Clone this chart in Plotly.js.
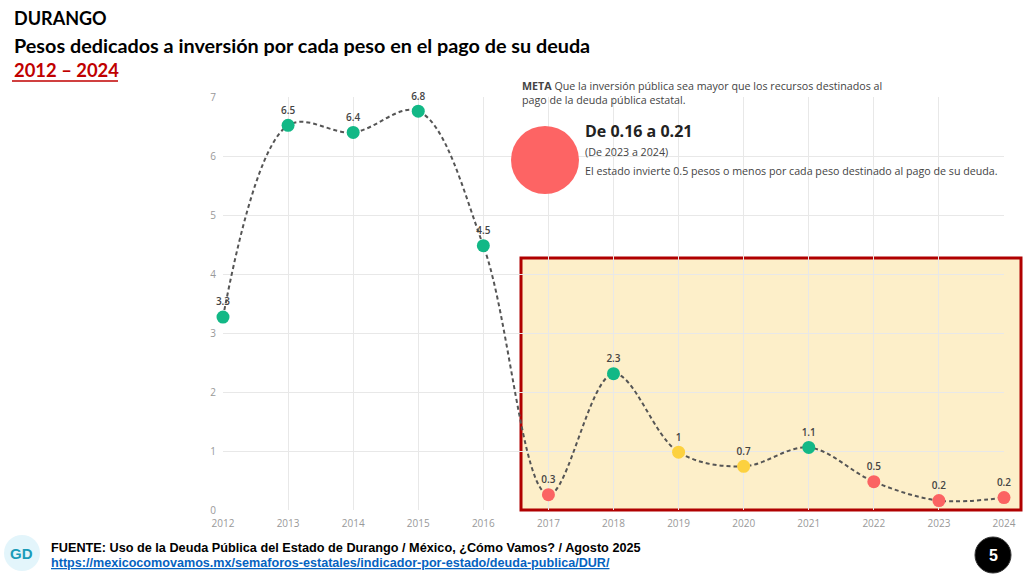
<!DOCTYPE html>
<html>
<head>
<meta charset="utf-8">
<script src="https://cdn.plot.ly/plotly-3.0.1.min.js"></script>
<style>
  html, body { margin: 0; padding: 0; background: #fff; }
  #graph { width: 1024px; height: 579px; }
</style>
</head>
<body>
<div id="graph"></div>
<script>
const years = [2012, 2013, 2014, 2015, 2016, 2017, 2018, 2019, 2020, 2021, 2022, 2023, 2024];
const values = [3.27, 6.52, 6.40, 6.76, 4.48, 0.26, 2.31, 0.98, 0.74, 1.06, 0.48, 0.16, 0.21];
const yTicks = [0, 1, 2, 3, 4, 5, 6, 7];

// semáforo: verde > 1, amarillo > 0.5, rojo el resto
function colorFor(v) {
  if (v > 1) return "#12b886";
  if (v > 0.5) return "#fcd13f";
  return "#fb6363";
}

const labels = values.map(v => String(Math.round(v * 10) / 10));
const colors = values.map(colorFor);

const trace = {
  x: years,
  y: values,
  type: "scatter",
  mode: "lines+markers+text",
  text: labels,
  textposition: "top center",
  textfont: { family: "Open Sans", size: 10, color: "#444", weight: 600 },
  line: { shape: "spline", smoothing: 1, color: "#555", width: 2, dash: "4px,3px" },
  marker: { size: 13, color: colors },
  cliponaxis: false,
  hoverinfo: "x+y"
};

const L = 223, R = 20, T = 97, B = 69;
const PW = 1024 - L - R, PH = 579 - T - B;
const px = x => (x - L) / PW;
const py = y => (579 - B - y) / PH;

const layout = {
  width: 1024,
  height: 579,
  margin: { l: L, r: R, t: T, b: B },
  paper_bgcolor: "#fff",
  plot_bgcolor: "#fff",
  showlegend: false,
  font: { family: "Open Sans", color: "#999" },
  xaxis: {
    range: [2012, 2024],
    tickvals: years,
    showgrid: true,
    gridcolor: "#e8e8e8",
    zeroline: false,
    showline: false,
    ticks: "",
    ticklabelstandoff: 6,
    tickfont: { size: 10, color: "#999" }
  },
  yaxis: {
    range: [0, 7],
    tickvals: yTicks,
    showgrid: true,
    gridcolor: "#e8e8e8",
    zeroline: false,
    showline: false,
    ticks: "",
    ticklabelstandoff: 6,
    tickfont: { size: 10, color: "#999" }
  },
  shapes: [
    {
      type: "rect", xref: "paper", yref: "paper", layer: "below",
      x0: px(521), x1: px(1021), y0: py(510), y1: py(258),
      fillcolor: "#fdefc9", line: { color: "#b00000", width: 3 }
    },
    {
      type: "rect", xref: "paper", yref: "paper", layer: "between",
      x0: px(506), x1: px(1024), y0: py(255), y1: py(76),
      fillcolor: "#fff", line: { width: 0 }
    },
    {
      type: "circle", xref: "paper", yref: "paper",
      xsizemode: "pixel", ysizemode: "pixel",
      xanchor: px(545), yanchor: py(160),
      x0: -34, x1: 34, y0: -34, y1: 34,
      fillcolor: "#fd6464", line: { width: 0 }
    },
    {
      type: "circle", xref: "paper", yref: "paper",
      xsizemode: "pixel", ysizemode: "pixel",
      xanchor: px(22), yanchor: py(553),
      x0: -18, x1: 18, y0: -18, y1: 18,
      fillcolor: "#e3f5fb", line: { width: 0 }
    },
    {
      type: "circle", xref: "paper", yref: "paper",
      xsizemode: "pixel", ysizemode: "pixel",
      xanchor: px(993), yanchor: py(555),
      x0: -18, x1: 18, y0: -18, y1: 18,
      fillcolor: "#000", line: { color: "#333", width: 1 }
    },
    {
      type: "line", xref: "paper", yref: "paper",
      x0: px(12), x1: px(118), y0: py(81), y1: py(81),
      line: { color: "#c00000", width: 1.5 }
    }
  ],
  annotations: [
    {
      xref: "paper", yref: "paper", x: px(12), y: py(18),
      xanchor: "left", yanchor: "middle", showarrow: false,
      text: "<b>DURANGO</b>",
      font: { family: "Lato", size: 18, color: "#000" }
    },
    {
      xref: "paper", yref: "paper", x: px(12), y: py(45),
      xanchor: "left", yanchor: "middle", showarrow: false,
      text: "<b>Pesos dedicados a inversión por cada peso en el pago de su deuda</b>",
      font: { family: "Lato", size: 19.8, color: "#000" }
    },
    {
      xref: "paper", yref: "paper", x: px(12), y: py(70),
      xanchor: "left", yanchor: "middle", showarrow: false,
      text: "<b>2012 – 2024</b>",
      font: { family: "Lato", size: 18.4, color: "#c00000" }
    },
    {
      xref: "paper", yref: "paper", x: px(520), y: py(93),
      xanchor: "left", yanchor: "middle", showarrow: false, align: "left",
      text: "<b>META</b> Que la inversión pública sea mayor que los recursos destinados al<br>pago de la deuda pública estatal.",
      font: { family: "Open Sans", size: 10.7, color: "#444" }
    },
    {
      xref: "paper", yref: "paper", x: px(583), y: py(131),
      xanchor: "left", yanchor: "middle", showarrow: false,
      text: "<b>De 0.16 a 0.21</b>",
      font: { family: "Open Sans", size: 16, color: "#222" }
    },
    {
      xref: "paper", yref: "paper", x: px(583), y: py(152),
      xanchor: "left", yanchor: "middle", showarrow: false,
      text: "(De 2023 a 2024)",
      font: { family: "Open Sans", size: 10.7, color: "#444" }
    },
    {
      xref: "paper", yref: "paper", x: px(583), y: py(171),
      xanchor: "left", yanchor: "middle", showarrow: false,
      text: "El estado invierte 0.5 pesos o menos por cada peso destinado al pago de su deuda.",
      font: { family: "Open Sans", size: 10.7, color: "#444" }
    },
    {
      xref: "paper", yref: "paper", x: px(22), y: py(553),
      xanchor: "center", yanchor: "middle", showarrow: false,
      text: "<b>GD</b>",
      font: { family: "Liberation Sans", size: 15, color: "#1a9bb8" }
    },
    {
      xref: "paper", yref: "paper", x: px(49), y: py(548),
      xanchor: "left", yanchor: "middle", showarrow: false,
      text: "<b>FUENTE: Uso de la Deuda Pública del Estado de Durango / México, ¿Cómo Vamos? / Agosto 2025</b>",
      font: { family: "Liberation Sans Narrow, Arial Narrow, Liberation Sans", size: 12.7, color: "#000" }
    },
    {
      xref: "paper", yref: "paper", x: px(49), y: py(563),
      xanchor: "left", yanchor: "middle", showarrow: false,
      text: "<span style=\"text-decoration:underline\"><b>https://mexicocomovamos.mx/semaforos-estatales/indicador-por-estado/deuda-publica/DUR/</b></span>",
      font: { family: "Liberation Sans Narrow, Arial Narrow, Liberation Sans", size: 12.6, color: "#0563c1" }
    },
    {
      xref: "paper", yref: "paper", x: px(993), y: py(555),
      xanchor: "center", yanchor: "middle", showarrow: false,
      text: "<b>5</b>",
      font: { family: "Liberation Sans", size: 16, color: "#fff" }
    }
  ]
};

Plotly.newPlot("graph", [trace], layout, { displayModeBar: false, staticPlot: true });
</script>
</body>
</html>
